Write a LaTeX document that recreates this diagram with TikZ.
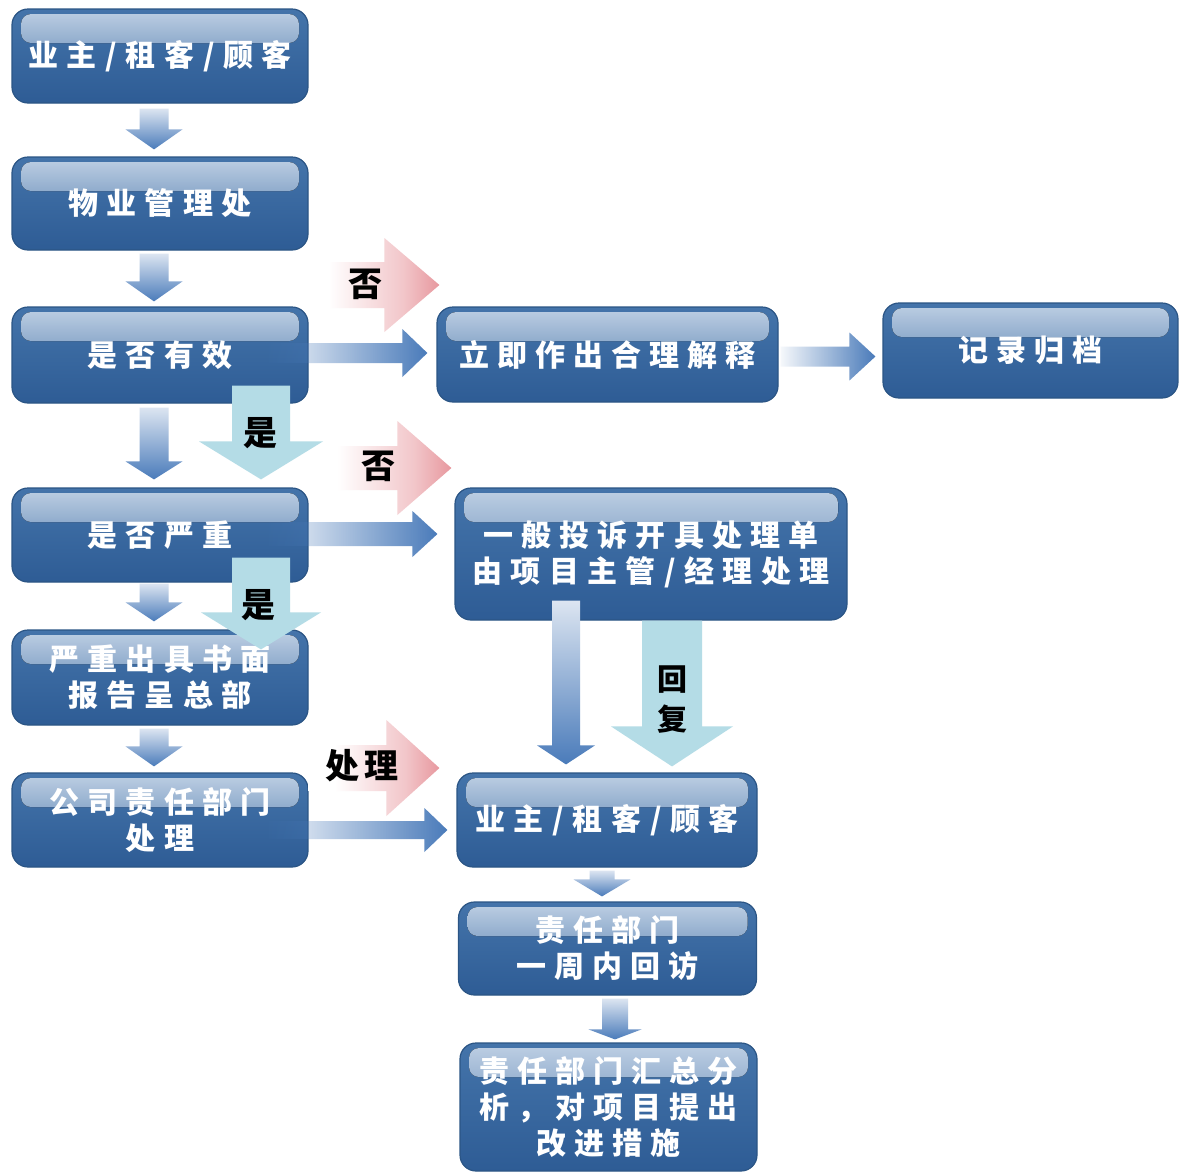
\documentclass[tikz,border=0pt]{standalone}
\usepackage{fontspec}
\newfontfamily\cjk{Noto Sans CJK SC}[LetterSpace=27]
\newfontfamily\cjklab{Noto Sans CJK SC}[LetterSpace=12]
\usetikzlibrary{calc,fadings}
\definecolor{boxtop}{HTML}{4474AA}
\definecolor{boxbot}{HTML}{2E5C95}
\definecolor{boxedge}{HTML}{2B5585}
\definecolor{hl}{HTML}{BFD0E4}
\definecolor{arrblue}{HTML}{4A7BBA}
\definecolor{arrlight}{HTML}{DCE5F1}
\definecolor{arrred}{HTML}{D3404C}
\definecolor{arrcyan}{HTML}{B4DCE6}
\pgfdeclarehorizontalshading{redfade}{100bp}{color(0bp)=(white); color(35bp)=(white); color(62bp)=(arrred!30!white); color(100bp)=(arrred)}
\tikzfading[name=fromleft, left color=transparent!95, right color=transparent!0]
\newcommand\slsh{\kern9pt/\kern9pt}
\newcommand\vblk[6]{\path[#1] let \p1=#2, \p2=#3 in (\x1-#4,\y1) -- (\x1+#4,\y1) -- (\x1+#4,\y2+#6) -- (\x1+#5,\y2+#6) -- (\x1,\y2) -- (\x1-#5,\y2+#6) -- (\x1-#4,\y2+#6) -- cycle;}
\newcommand\hblk[6]{\path[#1] let \p1=#2, \p2=#3 in (\x1,\y1-#4) -- (\x2-#6,\y1-#4) -- (\x2-#6,\y1-#5) -- (\x2,\y1) -- (\x2-#6,\y1+#5) -- (\x2-#6,\y1+#4) -- (\x1,\y1+#4) -- cycle;}
\tikzset{
  box/.style={rounded corners=16pt, draw=boxedge, line width=1.2pt,
    top color=boxtop, bottom color=boxbot, text=white, align=center,
    font=\cjk\bfseries\fontsize{30}{36}\selectfont, inner sep=0pt,
    path picture={\fill[top color=hl, bottom color=boxtop!72!boxbot, rounded corners=10pt]
      ($(path picture bounding box.north west)+(9,5)$) rectangle
      ($(path picture bounding box.north east)+(-9,34)$);}},
  blueV/.style={top color=arrlight, bottom color=arrblue},
  blueH/.style={fill=arrblue, path fading=fromleft},
  redH/.style={shade, shading=redfade},
  cyanV/.style={fill=arrcyan},
  lab/.style={text=black, font=\cjklab\bfseries\fontsize{34}{40}\selectfont, inner sep=0pt, align=center}
}
\begin{document}
\begin{tikzpicture}[x=1pt,y=-1pt]
\fill[white] (0,0) rectangle (1179,1171);
\useasboundingbox (0,0) rectangle (1179,1171);
% boxes
\node[box, minimum width=296pt, minimum height=94pt] (b1) at (160,56) {业主\slsh 租客\slsh 顾客};
\node[box, minimum width=296pt, minimum height=93pt] (b2) at (160,203.5) {物业管理处};
\node[box, minimum width=296pt, minimum height=96pt] (b3) at (160,355) {是否有效};
\node[box, minimum width=341pt, minimum height=95pt] (b4) at (607.5,354.5) {立即作出合理解释};
\node[box, minimum width=295pt, minimum height=95pt] (b5) at (1030.5,350.5) {记录归档};
\node[box, minimum width=296pt, minimum height=94pt] (b6) at (160,535) {是否严重};
\node[box, minimum width=392pt, minimum height=132pt] (b7) at (651,554) {一般投诉开具处理单\\由项目主管\slsh 经理处理};
\node[box, minimum width=296pt, minimum height=95pt] (b8) at (160,677.5) {严重出具书面\\报告呈总部};
\node[box, minimum width=296pt, minimum height=94pt] (b9) at (160,820) {公司责任部门\\处理};
\node[box, minimum width=300pt, minimum height=94pt] (b10) at (607,820) {业主\slsh 租客\slsh 顾客};
\node[box, minimum width=298pt, minimum height=93pt] (b11) at (607.5,948.5) {责任部门\\一周内回访};
\node[box, minimum width=297pt, minimum height=128pt] (b12) at (608.5,1107) {责任部门汇总分\\析，对项目提出\\改进措施};
% blue vertical arrows
\vblk{blueV}{([xshift=-6pt,yshift=-5pt]b1.south)}{([yshift=7pt]b2.north)}{14.5pt}{28.5pt}{20pt}
\vblk{blueV}{([xshift=-6pt,yshift=-3pt]b2.south)}{([yshift=5pt]b3.north)}{14.5pt}{28.5pt}{20pt}
\vblk{blueV}{([xshift=-6pt,yshift=-4pt]b3.south)}{([yshift=8pt]b6.north)}{14.5pt}{28.5pt}{18pt}
\vblk{blueV}{([xshift=-6pt,yshift=-1pt]b6.south)}{([yshift=8pt]b8.north)}{14.5pt}{28.5pt}{19pt}
\vblk{blueV}{([xshift=-6pt,yshift=-3pt]b8.south)}{([yshift=6pt]b9.north)}{14.5pt}{28.5pt}{20pt}
\vblk{blueV}{([xshift=-5pt,yshift=-3pt]b10.south)}{([yshift=5pt]b11.north)}{12.5pt}{28.5pt}{17pt}
\vblk{blueV}{([xshift=7.5pt,yshift=-3pt]b11.south)}{([yshift=3pt]b12.north)}{13pt}{26.5pt}{10pt}
\vblk{blueV}{([xshift=-85pt,yshift=20pt]b7.south)}{([yshift=8pt]b10.north)}{14pt}{29pt}{19pt}
% blue horizontal arrows
\hblk{blueH}{([xshift=-40pt,yshift=2pt]b3.east)}{([xshift=-9pt]b4.west)}{10pt}{24pt}{25pt}
\hblk{blueH}{([xshift=2pt,yshift=-2pt]b4.east)}{([xshift=-7pt]b5.west)}{10pt}{24pt}{26pt}
\hblk{blueH}{([xshift=-40pt,yshift=1pt]b6.east)}{([xshift=-17pt]b7.west)}{12pt}{23pt}{25pt}
\hblk{blueH}{([xshift=-40pt,yshift=-10pt]b9.east)}{([xshift=-9pt]b10.west)}{9pt}{22pt}{23pt}
% red arrows
\hblk{redH}{([xshift=-8pt,yshift=70pt]b3.east)}{([xshift=3pt]b4.west)}{23pt}{47pt}{55pt}
\hblk{redH}{([yshift=67pt]b6.east)}{([xshift=-3pt]b7.west)}{22pt}{47pt}{54pt}
\hblk{redH}{([yshift=52pt]b9.east)}{([xshift=-17pt]b10.west)}{23pt}{48pt}{53pt}
% cyan arrows
\vblk{cyanV}{([xshift=101pt,yshift=18pt]b3.south)}{([yshift=8pt]b6.north)}{29pt}{62pt}{38pt}
\vblk{cyanV}{([xshift=101pt,yshift=25pt]b6.south)}{([yshift=-20pt]b8.north)}{29pt}{60pt}{37pt}
\vblk{cyanV}{([xshift=21pt]b7.south)}{([yshift=6pt]b10.north)}{30pt}{61pt}{40pt}
% labels
\node[lab] (l1) at (365,284) {否};
\node[lab] (l2) at (378,466) {否};
\node[lab] (l3) at (362,766) {处理};
\node[lab] (l4) at (260,433) {是};
\node[lab] (l5) at (258,605) {是};
\node[lab, font=\cjklab\bfseries\fontsize{30}{40}\selectfont] (l6) at (672,700) {回\\复};
\end{tikzpicture}
\end{document}
